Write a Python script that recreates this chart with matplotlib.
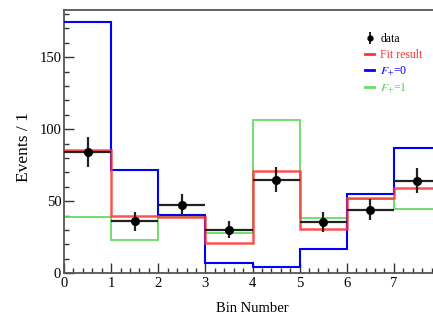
import matplotlib
matplotlib.use("Agg")
import matplotlib.pyplot as plt
import numpy as np
from matplotlib.lines import Line2D
from matplotlib.ticker import MultipleLocator
from matplotlib.legend_handler import HandlerTuple

plt.rcParams['font.family'] = ['Liberation Serif', 'DejaVu Serif']
plt.rcParams['mathtext.fontset'] = 'stix'

bin_edges = [0, 1, 2, 3, 4, 5, 6, 7, 8]
data_vals = [84.2, 36.0, 47.4, 30.2, 65.1, 35.8, 44.0, 64.4]
data_errs = [10.2, 6.5, 7.8, 6.0, 8.7, 7.0, 7.3, 8.5]
fit_vals = [85.8, 39.7, 39.2, 20.7, 71.1, 30.7, 52.5, 59.1]
f0_vals = [174.3, 71.7, 40.3, 7.3, 4.3, 16.7, 55.2, 87.0]
f1_vals = [38.8, 23.1, 39.2, 27.9, 106.5, 38.6, 51.3, 44.3]
x_ticks = [0, 1, 2, 3, 4, 5, 6, 7]
y_ticks = [0, 50, 100, 150]

c_red = '#ff3333'
c_blue = '#0000ff'
c_green = '#66dd66'
c_data = '#222222'

fig = plt.figure(figsize=(4.33, 3.17), dpi=100)
ax = fig.add_axes([64/433, 1-273.3/317, (441-64)/433, (273.3-10)/317])

edges = np.array(bin_edges, dtype=float)
ax.stairs(f1_vals, edges, baseline=None, color=c_green, lw=1.3, zorder=2)
ax.stairs(f0_vals, edges, baseline=None, color=c_blue, lw=1.5, zorder=3)
ax.stairs(fit_vals, edges, baseline=None, color=c_red, lw=1.8, alpha=0.85, zorder=4)

centers = 0.5 * (edges[:-1] + edges[1:])
ax.errorbar(centers, data_vals, yerr=data_errs, xerr=0.5, fmt='o', color='black',
            ecolor=c_data, elinewidth=1.6, markersize=5.5, capsize=0, zorder=5)

ax.set_xlim(0, 8)
ax.set_ylim(0, 182.8)
ax.set_xticks(x_ticks)
ax.set_yticks(y_ticks)
ax.xaxis.set_minor_locator(MultipleLocator(0.2))
ax.yaxis.set_minor_locator(MultipleLocator(10))
ax.tick_params(which='both', direction='in', top=False, right=False, colors='#333333',
               labelcolor='black', labelsize=10.5)
ax.tick_params(which='major', length=7, width=1.0)
ax.tick_params(which='minor', length=3.5, width=1.0)
ax.tick_params(axis='x', pad=3)
ax.tick_params(axis='y', pad=2)
for s in ['left', 'bottom', 'top']:
    ax.spines[s].set_color('#555555')
    ax.spines[s].set_linewidth(1.3)
ax.spines['right'].set_visible(False)

ax.set_xlabel('Bin Number', fontsize=10.5)
ax.set_ylabel('Events / 1', fontsize=12.5)
ax.xaxis.set_label_coords((252 - 64) / (441 - 64), -(302.5 - 273.3) / (273.3 - 10))
ax.yaxis.set_label_coords(-(64 - 32) / (441 - 64), (273.3 - 147) / (273.3 - 10))

data_handle = (Line2D([], [], color='black', marker='|', markersize=8, mew=1.2, lw=0),
               Line2D([], [], color='black', marker='o', markersize=3.5, lw=0))
handles = [
    data_handle,
    Line2D([], [], color=c_red, lw=2),
    Line2D([], [], color=c_blue, lw=2),
    Line2D([], [], color=c_green, lw=2),
]
labels = ['data', 'Fit result', '$F_{+}$=0', '$F_{+}$=1']
leg = fig.legend(handles, labels, loc='upper left', bbox_to_anchor=(365/433, 1-33/317),
                 frameon=False, fontsize=8.5, handlelength=0.8, handletextpad=0.5,
                 labelspacing=0.33, borderaxespad=0, borderpad=0,
                 handler_map={tuple: HandlerTuple(ndivide=1, pad=0)})
for t, c in zip(leg.get_texts(), ['black', c_red, c_blue, '#55cc55']):
    t.set_color(c)

fig.savefig('out.png', dpi=100)
